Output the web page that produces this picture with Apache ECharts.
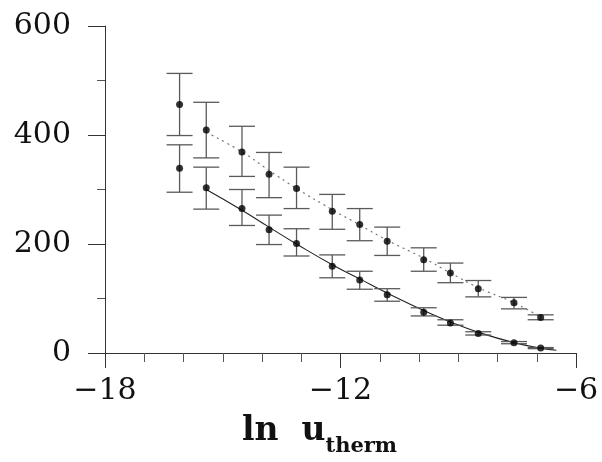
<!DOCTYPE html>
<html><head><meta charset="utf-8">
<script src="https://cdn.jsdelivr.net/npm/echarts@6/dist/echarts.min.js"></script>
<style>html,body{margin:0;padding:0;background:#fff}#c{width:602px;height:462px}</style>
</head><body><div id="c"></div>
<script>
// ln u_therm positions
const xVals = [-16.10, -15.42, -14.51, -13.82, -13.12, -12.21, -11.51, -10.81, -9.88, -9.20, -8.49, -7.58, -6.90];
// upper data set (dotted fit)
const upperVals = [456, 409, 369, 328, 302, 260, 236, 205, 171, 147, 118, 92, 65];
const upperLow  = [399, 358, 324, 285, 265, 227, 206, 179, 150, 129, 103, 81, 61];
const upperHigh = [513, 460, 416, 368, 341, 291, 265, 231, 193, 165, 133, 102, 70];
// lower data set (solid fit)
const lowerVals = [339, 303, 265, 226, 201, 159, 134, 107, 75, 55, 36, 19, 9];
const lowerLow  = [295, 264, 234, 199, 178, 138, 117, 95, 68, 51, 33, 17, 8];
const lowerHigh = [382, 341, 300, 253, 228, 180, 150, 118, 83, 61, 39, 21, 10];
// fit curves
const upperFitX = [-15.42, -14.51, -13.82, -13.12, -12.21, -11.51, -10.81, -9.88, -9.20, -8.49, -7.58, -6.90];
const upperFitY = [405, 369, 335, 302, 263, 235, 207, 174, 147, 120, 92, 66];
const lowerFitX = [-15.42, -14.51, -13.82, -13.12, -12.21, -11.51, -10.81, -9.88, -9.20, -8.49, -7.58, -6.90, -6.50];
const lowerFitY = [300, 262, 231, 200, 162, 136, 110, 78, 57, 38, 19, 9, 5];

const pts = (xs, ys) => xs.map((x, i) => [x, ys[i]]);
const errData = (lo, hi) => xVals.map((x, i) => [x, lo[i], hi[i]]);

function errBar(params, api) {
  const x = api.value(0);
  const lo = api.coord([x, api.value(1)]);
  const hi = api.coord([x, api.value(2)]);
  const hw = 13;
  const st = { stroke: '#5a5a5a', lineWidth: 1.3 };
  return { type: 'group', children: [
    { type: 'line', shape: { x1: lo[0], y1: lo[1], x2: hi[0], y2: hi[1] }, style: st },
    { type: 'line', shape: { x1: lo[0]-hw, y1: lo[1], x2: lo[0]+hw, y2: lo[1] }, style: st },
    { type: 'line', shape: { x1: hi[0]-hw, y1: hi[1], x2: hi[0]+hw, y2: hi[1] }, style: st }
  ]};
}

const chart = echarts.init(document.getElementById('c'), null, { renderer: 'canvas' });
const serif = 'DejaVu Serif';
chart.setOption({
  animation: false,
  backgroundColor: '#fff',
  grid: { left: 105, right: 26, top: 26, bottom: 103, containLabel: false },
  xAxis: {
    type: 'value', min: -18, max: -6, interval: 6,
    axisLine: { show: true, onZero: true, lineStyle: { color: '#333', width: 1 } },
    axisTick: { show: true, length: 15, lineStyle: { color: '#333' } },
    minorTick: { show: true, splitNumber: 6, length: 9, lineStyle: { color: '#555' } },
    splitLine: { show: false },
    axisLabel: { fontFamily: serif, fontSize: 30, color: '#111', margin: 23,
      formatter: v => (v < 0 ? '\u2212' + Math.abs(v) : '' + v) },
    name: '{a|ln  u}{b|therm}', nameLocation: 'middle', nameGap: 62,
    nameTextStyle: { padding: [0, 42, 0, 0], rich: {
      a: { fontFamily: serif, fontWeight: 'bold', fontSize: 33, color: '#111', lineHeight: 42, verticalAlign: 'top' },
      b: { fontFamily: serif, fontWeight: 'bold', fontSize: 21, color: '#111', lineHeight: 42, verticalAlign: 'bottom' }
    } }
  },
  yAxis: {
    type: 'value', min: 0, max: 600, interval: 200,
    axisLine: { show: true, lineStyle: { color: '#333', width: 1 } },
    axisTick: { show: true, length: 17, lineStyle: { color: '#333' } },
    minorTick: { show: true, splitNumber: 2, length: 8, lineStyle: { color: '#555' } },
    splitLine: { show: false },
    axisLabel: { fontFamily: serif, fontSize: 30, color: '#111', margin: 34 }
  },
  series: [
    { type: 'line', data: pts(upperFitX, upperFitY), smooth: true, symbol: 'none',
      lineStyle: { color: '#777', width: 1.2, type: [2, 4] }, z: 2 },
    { type: 'line', data: pts(lowerFitX, lowerFitY), smooth: true, symbol: 'none',
      lineStyle: { color: '#222', width: 1.1 }, z: 2 },
    { type: 'custom', renderItem: errBar, data: errData(upperLow, upperHigh), encode: { x: 0, y: [1, 2] }, z: 3 },
    { type: 'custom', renderItem: errBar, data: errData(lowerLow, lowerHigh), encode: { x: 0, y: [1, 2] }, z: 3 },
    { type: 'scatter', data: pts(xVals, upperVals), symbol: 'circle', symbolSize: 7,
      itemStyle: { color: '#000' }, z: 4 },
    { type: 'scatter', data: pts(xVals, lowerVals), symbol: 'circle', symbolSize: 7,
      itemStyle: { color: '#000' }, z: 4 }
  ]
});
</script></body></html>
